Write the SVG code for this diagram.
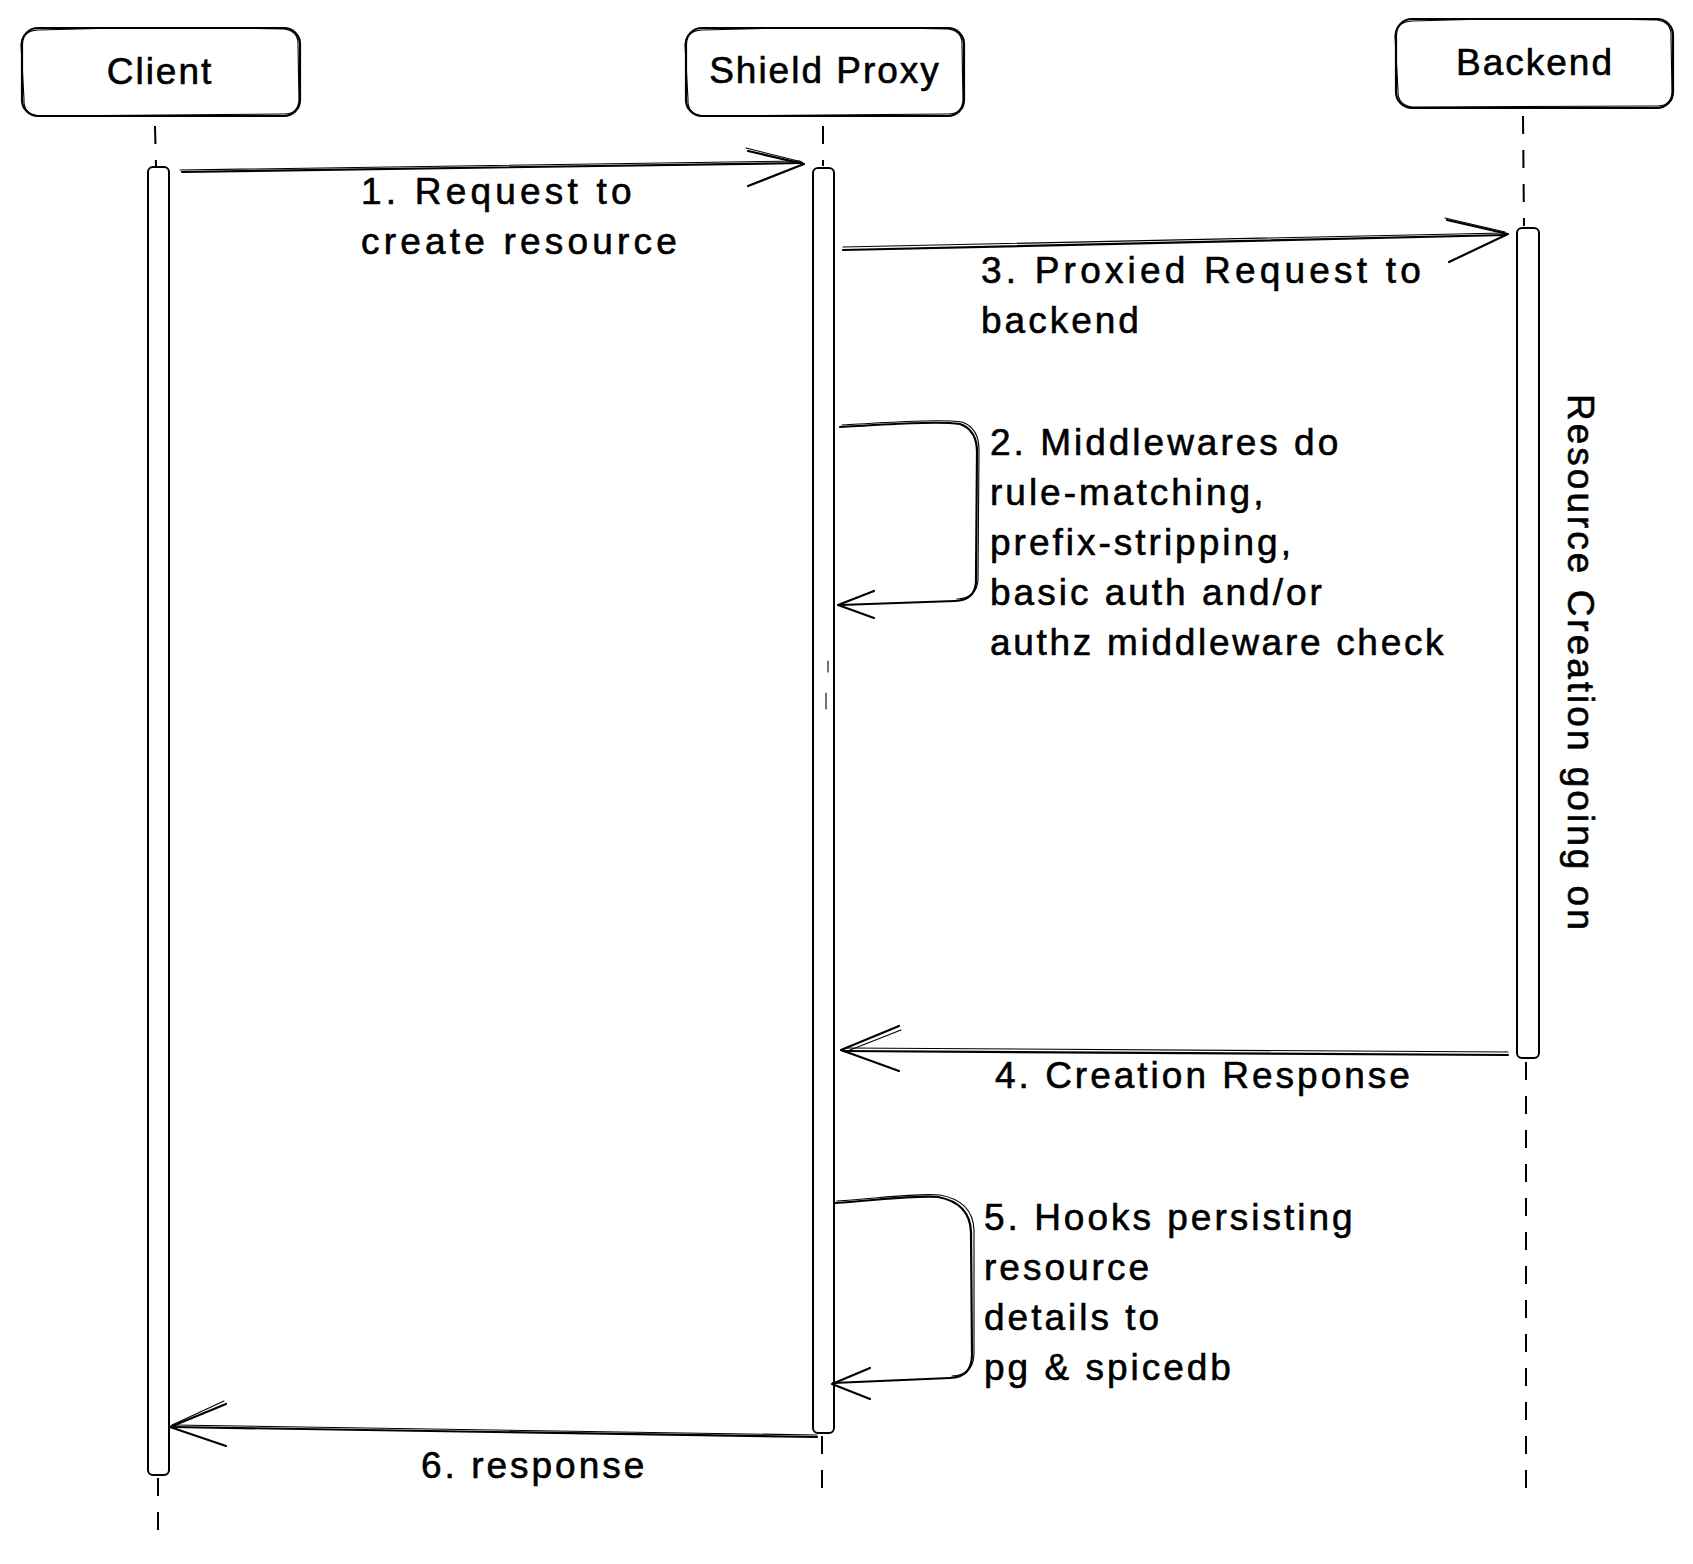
<svg xmlns="http://www.w3.org/2000/svg" width="1693" height="1564" viewBox="0 0 1693 1564">
<style>
.bg{fill:#fff}
.box{fill:#fff;stroke:#000;stroke-width:2.2}
.box2{fill:none;stroke:#000;stroke-width:1.1}
.bar{fill:#fff;stroke:#000;stroke-width:2}
.life{fill:none;stroke:#000;stroke-width:2;stroke-dasharray:18 16}
.conn{fill:none;stroke:#000;stroke-width:2.2;stroke-linecap:round;stroke-linejoin:round}
.conn2{fill:none;stroke:#000;stroke-width:1.1;stroke-linecap:round;stroke-linejoin:round}
.t{font-family:"Liberation Sans",Arial,sans-serif;font-size:37px;letter-spacing:3px;fill:#000;stroke:#000;stroke-width:0.6}
.title{text-anchor:middle;letter-spacing:2px}
.wide{letter-spacing:4.2px}
.narrow{letter-spacing:2.7px}
</style>
<rect class="bg" x="0" y="0" width="1693" height="1564"/>

<g id="node-client">
  <path class="life" d="M155,126 L156,166"/>
  <path class="life" d="M158,1478 L158,1532"/>
  <rect class="bar" x="148" y="167" width="21" height="1308" rx="5"/>
  <rect class="box" x="22" y="28" width="278" height="88" rx="16"/>
  <path class="box2" d="M38,30 Q160,26 284,29 Q299,31 298,46 L299,100 Q298,115 282,114 L38,116 Q23,114 24,99 L21,45 Q22,31 38,30"/>
  <text class="t title" x="160" y="84">Client</text>
</g>

<g id="node-proxy">
  <path class="life" d="M823,126 L823,166"/>
  <path class="life" d="M822,1436 L822,1502"/>
  <rect class="bar" x="813" y="168" width="21" height="1265" rx="5"/>
  <path class="conn2" d="M828,661 L828,672 M826,693 L826,709"/>
  <rect class="box" x="686" y="28" width="278" height="88" rx="16"/>
  <path class="box2" d="M702,30 Q825,26 948,29 Q963,31 962,46 L963,100 Q962,115 946,114 L702,116 Q687,114 688,99 L685,45 Q686,31 702,30"/>
  <text class="t title" x="825" y="83">Shield Proxy</text>
</g>

<g id="node-backend">
  <path class="life" d="M1523,116 L1524,226"/>
  <path class="life" d="M1526,1062 L1526,1488"/>
  <rect class="bar" x="1517" y="228" width="22" height="830" rx="5"/>
  <rect class="box" x="1396" y="19" width="277" height="89" rx="16"/>
  <path class="box2" d="M1412,21 Q1535,17 1657,20 Q1672,22 1671,37 L1672,92 Q1671,107 1655,106 L1412,107 Q1397,105 1398,90 L1395,36 Q1396,22 1412,21"/>
  <text class="t title" x="1535" y="75">Backend</text>
  <text class="t" transform="translate(1568,394) rotate(90)">Resource Creation going on</text>
</g>

<g id="connectors">
  <g id="msg1">
    <path class="conn" d="M182,172 L802,163"/>
    <path class="conn2" d="M180,170 L800,161"/>
    <path class="conn" d="M748,151 L804,164 L748,186"/>
    <path class="conn2" d="M746,148 L802,162"/>
    <text class="t wide" x="361" y="204">1. Request to</text>
    <text class="t wide" x="361" y="254">create resource</text>
  </g>
  <g id="msg3">
    <path class="conn" d="M843,250 L1506,235"/>
    <path class="conn2" d="M843,247 L1504,233"/>
    <path class="conn" d="M1447,220 L1508,234 L1449,262"/>
    <path class="conn2" d="M1445,218 L1505,232"/>
    <text class="t wide" x="981" y="283">3. Proxied Request to</text>
    <text class="t" x="981" y="333">backend</text>
  </g>
  <g id="msg2">
    <path class="conn" d="M840,427 C890,424 940,421 960,424 Q977,430 977,452 L976,582 Q975,600 955,601 L840,605"/>
    <path class="conn2" d="M842,425 C892,422 942,419 962,422 Q979,428 979,450 L978,580 Q977,598 957,599"/>
    <path class="conn" d="M874,591 L838,605 L874,618"/>
    <text class="t" x="990" y="455">2. Middlewares do</text>
    <text class="t" x="990" y="505">rule-matching,</text>
    <text class="t" x="990" y="555">prefix-stripping,</text>
    <text class="t" x="990" y="605">basic auth and/or</text>
    <text class="t narrow" x="990" y="655">authz middleware check</text>
  </g>
  <g id="msg4">
    <path class="conn" d="M1508,1055 L843,1051"/>
    <path class="conn2" d="M1508,1052 L845,1048"/>
    <path class="conn" d="M899,1026 L841,1050 L899,1071"/>
    <path class="conn2" d="M901,1030 L845,1052"/>
    <text class="t" x="995" y="1088">4. Creation Response</text>
  </g>
  <g id="msg5">
    <path class="conn" d="M835,1203 C880,1200 915,1195 938,1197 Q970,1203 971,1232 L972,1355 Q972,1377 950,1378 L833,1383"/>
    <path class="conn2" d="M837,1201 C882,1198 917,1193 940,1195 Q973,1201 974,1230 L974,1353 Q974,1375 952,1376"/>
    <path class="conn" d="M870,1368 L832,1384 L870,1399"/>
    <text class="t" x="984" y="1230">5. Hooks persisting</text>
    <text class="t" x="984" y="1280">resource</text>
    <text class="t" x="984" y="1330">details to</text>
    <text class="t" x="984" y="1380">pg &amp; spicedb</text>
  </g>
  <g id="msg6">
    <path class="conn" d="M817,1437 L172,1427"/>
    <path class="conn2" d="M817,1435 L174,1425"/>
    <path class="conn" d="M226,1404 L170,1427 L226,1446"/>
    <path class="conn2" d="M224,1401 L172,1425"/>
    <text class="t" x="421" y="1478">6. response</text>
  </g>
</g>
</svg>
